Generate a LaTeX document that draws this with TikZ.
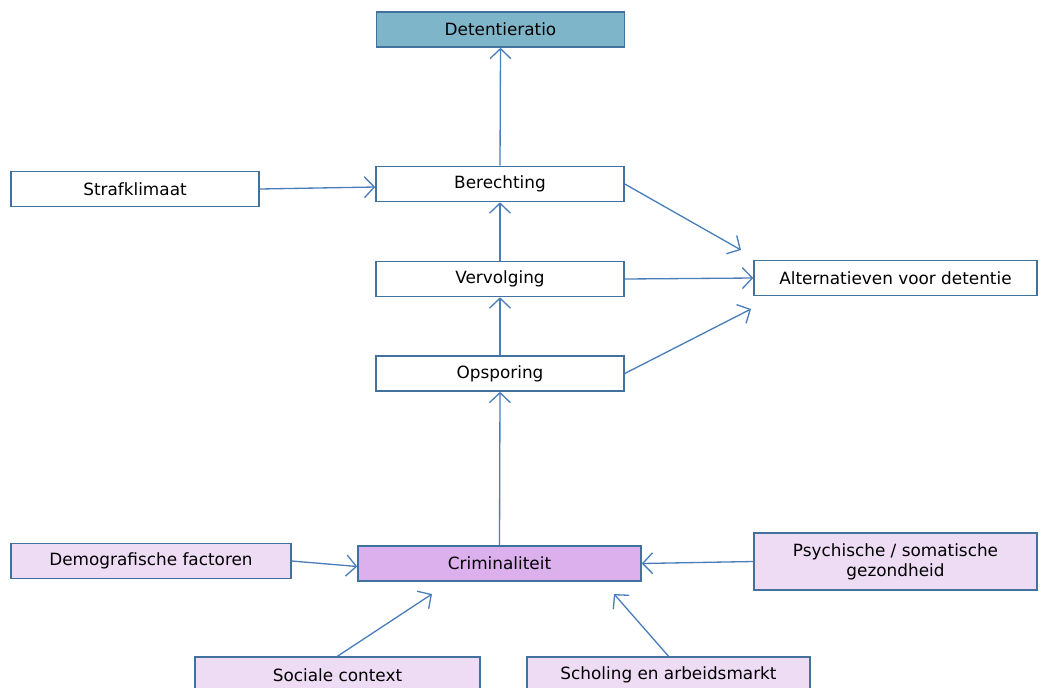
\documentclass[tikz,border=0pt]{standalone}
\usepackage{fontspec}
\setmainfont{DejaVu Sans}
\usetikzlibrary{positioning,arrows.meta,calc}
\definecolor{edgeblue}{RGB}{65,113,156}
\definecolor{linkblue}{RGB}{74,126,187}
\definecolor{topfill}{RGB}{127,181,200}
\definecolor{crimfill}{RGB}{220,176,236}
\definecolor{factorfill}{RGB}{238,220,245}

\begin{document}
\begin{tikzpicture}[x=0.02cm, y=-0.02cm,
    % Node styles
    stage/.style={rectangle, draw=edgeblue, line width=0.9pt, fill=white, text=black,
                  minimum width=4.96cm, minimum height=0.7cm, align=center,
                  font=\fontsize{9.6}{11.5}\selectfont, inner sep=0pt},
    outcome/.style={stage, fill=topfill},
    core/.style={stage, fill=crimfill, minimum width=5.66cm},
    factor/.style={stage, fill=factorfill},
    % Arrow styles
    link/.style={-{Straight Barb[length=2mm, width=4.2mm]}, color=linkblue, line width=0.75pt}
]
\useasboundingbox (0,0) rectangle (1041,687);

% Justice chain
\node[outcome] (detentieratio) at (500.5, 29.5) {Detentieratio};
\node[stage] (berechting) at (500, 184) {Berechting};
\node[stage] (vervolging) at (500, 279) {Vervolging};
\node[stage] (opsporing) at (500, 373.5) {Opsporing};
\node[stage] (strafklimaat) at (135, 189) {Strafklimaat};
\node[stage, minimum width=5.66cm] (alternatieven) at (895.5, 278) {Alternatieven voor detentie};

% Crime and its factors
\node[core] (criminaliteit) at (499.5, 563.5) {Criminaliteit};
\node[factor, minimum width=5.6cm] (demografie) at (151, 561) {Demografische factoren};
\node[factor, minimum width=5.66cm, minimum height=1.14cm] (gezondheid) at (895.5, 561.5) {Psychische / somatische\\gezondheid};
\node[factor, minimum width=5.7cm, minimum height=0.72cm] (sociaal) at (337.5, 675) {Sociale context};
\node[factor, minimum width=5.66cm, minimum height=0.72cm] (scholing) at (668.5, 675) {Scholing en arbeidsmarkt};

% Free arrow ends
\coordinate (alt_top) at (741, 250);
\coordinate (alt_bottom) at (751, 309);
\coordinate (crim_left) at (432, 594);
\coordinate (crim_right) at (614, 594);

% Chain arrows
\draw[link] (berechting.north) -- (detentieratio.south);
\draw[link] (vervolging.north) -- (berechting.south);
\draw[link] (opsporing.north) -- (vervolging.south);
\draw[link] (criminaliteit.north) -- (opsporing.south);
\draw[link] (strafklimaat.east) -- ($(berechting.west)+(0,3)$);

% Towards alternatives
\draw[link] (berechting.east) -- (alt_top);
\draw[link] (vervolging.east) -- (alternatieven.west);
\draw[link] (opsporing.east) -- (alt_bottom);

% Factor arrows
\draw[link] (demografie.east) -- ($(criminaliteit.west)+(0,3)$);
\draw[link] (gezondheid.west) -- (criminaliteit.east);
\draw[link] (sociaal.north) -- (crim_left);
\draw[link] (scholing.north) -- (crim_right);

\end{tikzpicture}
\end{document}
